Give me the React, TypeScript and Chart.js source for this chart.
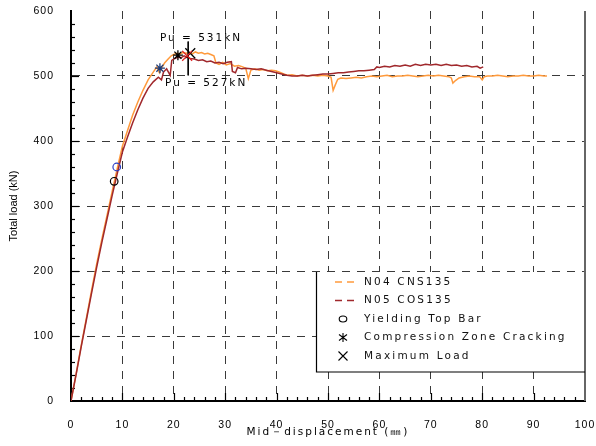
import React, { useEffect, useRef } from "react";
import { Chart, registerables } from "chart.js";

Chart.register(...registerables);

// ---------- DATA ----------
const n04X = [
  0, 1, 2, 3, 4, 5, 6, 7, 8, 9,
  10, 11, 12, 13, 14, 15, 16, 16.7, 17.2, 17.6,
  18.2, 18.9, 19.5, 20, 20.6, 21.2, 21.8, 22.4, 23, 23.6,
  24.2, 24.8, 25.4, 26, 26.6, 27.2, 27.8, 28.2, 28.8, 29.5,
  30.2, 31, 31.8, 32.6, 33.4, 34, 34.5, 35, 35.8, 36.6,
  37.4, 38.2, 39, 39.8, 40.6, 41.4, 42.2, 43, 44, 45,
  46, 47, 48, 49, 50, 50.6, 51, 51.4, 51.9, 52.5,
  53.5, 54.5, 55.5, 56.5, 57.5, 58.5, 59.5, 60.5, 61.5, 62.5,
  63.5, 64.5, 65.5, 66.5, 67.5, 68.5, 69.5, 70.5, 71.5, 72.5,
  73.5, 74, 74.3, 74.8, 75.5, 76.5, 77.5, 78.5, 79.5, 80,
  80.4, 81, 82, 83, 84, 85, 86, 87, 88, 89,
  90, 91, 92, 92.6,
];
const n04Y = [
  0, 42, 86, 128, 170, 211, 249, 285, 322, 358,
  392, 416, 440, 460, 478, 494, 506, 514, 505, 512,
  520, 526, 531, 533, 535, 534, 536, 535, 536, 534,
  537, 535, 536, 534, 535, 533, 531, 520, 518, 521,
  517, 519, 515, 516, 514, 512, 496, 509, 511, 509,
  510, 508, 509, 508, 506, 503, 501, 502, 500, 501,
  500, 501, 500, 501, 500, 498, 478, 486, 495, 497,
  496, 497, 498, 497, 499, 500, 499, 500, 501, 499,
  500, 500, 501, 500, 499, 500, 501, 500, 501, 500,
  499, 497, 489, 493, 497, 499, 500, 499, 499, 494,
  499, 500, 500, 501, 500, 499, 500, 500, 501, 500,
  500, 501, 500, 500,
];

const n05X = [
  0, 1, 2, 3, 4, 5, 6, 7, 8, 9,
  10, 11, 12, 13, 14, 15, 16, 17, 17.6, 18,
  18.6, 19.3, 19.6, 20.2, 20.8, 21.4, 22, 22.6, 23.2, 24,
  24.8, 25.6, 26.4, 27.2, 28, 28.8, 29.6, 30.4, 31.2, 31.4,
  32, 32.4, 33.2, 34, 35, 36, 37, 38, 39, 40,
  41, 42, 43, 44, 45, 46, 47, 48, 49, 50,
  51, 52, 53, 54, 55, 56, 57, 58, 59, 59.5,
  60, 61, 62, 63, 64, 65, 66, 67, 68, 69,
  70, 71, 72, 73, 74, 75, 76, 77, 78, 79,
  79.6, 80.2,
];
const n05Y = [
  0, 41, 84, 125, 166, 206, 244, 280, 316, 350,
  383, 406, 428, 448, 466, 481, 491, 498, 494, 506,
  511, 501, 524, 527, 529, 528, 531, 529, 527, 526,
  524, 525, 522, 523, 520, 521, 519, 521, 522, 507,
  505, 513, 511, 512, 511, 510, 511, 509, 507, 505,
  503, 501, 500, 500, 501, 500, 501, 502, 503, 503,
  504, 505, 505, 506, 507, 508, 508, 509, 510, 514,
  513, 515, 514, 516, 515, 517, 515, 518, 516, 518,
  517, 518, 516, 518, 516, 517, 515, 516, 514, 515,
  512, 514,
];

const yieldX = [8.4, 8.9];
const yieldY = [338, 360];
const crackX = [17.3, 20.8];
const crackY = [512, 532];
const maxLoadX = [23.2, 22.6];
const maxLoadY = [535, 531];

const leaderX = [22.8, 22.8];
const leaderY = [553, 501];

const peakTexts = ["Pu = 531kN", "Pu = 527kN"];
const peakTextX = [25.3, 26.3];
const peakTextY = [558, 489];

const seriesLabels = ["N04 CNS135", "N05 COS135"];
const markerLabels = ["Yielding Top Bar", "Compression Zone Cracking", "Maximum Load"];

const xTickValues = [0, 10, 20, 30, 40, 50, 60, 70, 80, 90, 100];
const yTickValues = [0, 100, 200, 300, 400, 500, 600];
const xMinorStep = 2;
const yMinorStep = 20;

const xTitle = "Mid－displacement (㎜)";
const yTitle = "Total load (kN)";

// ---------- STYLE ----------
const ORANGE = "#FF9A3C";
const DARKRED = "#A0282C";
const TICK_FONT = '"Liberation Sans", Arial, sans-serif';
const TEXT_FONT = '"DejaVu Sans", sans-serif';
const GRID = "#3a3a3a";

const pts = (xs: number[], ys: number[]) => xs.map((x, i) => ({ x, y: ys[i] }));

function patchText(labelSpacing: string, titleSpacing: string) {
  return (scale: any) => {
    if (scale.__patched) return;
    scale.__patched = true;
    const origLabels = scale.drawLabels;
    scale.drawLabels = function (area: any) {
      const c = this.ctx;
      c.save();
      c.letterSpacing = labelSpacing;
      origLabels.call(this, area);
      c.restore();
    };
    const origTitle = scale.drawTitle;
    scale.drawTitle = function () {
      const c = this.ctx;
      c.save();
      c.letterSpacing = titleSpacing;
      origTitle.call(this);
      c.restore();
    };
  };
}

function fixBox(size: { width?: number; height?: number }) {
  return (s: any) => {
    if (size.width !== undefined) s.width = size.width;
    if (size.height !== undefined) s.height = size.height;
    s.paddingLeft = 0;
    s.paddingRight = 0;
    s.paddingTop = 0;
    s.paddingBottom = 0;
  };
}

const decorPlugin = {
  id: "decor",
  beforeDatasetsDraw(chart: any) {
    const { ctx, chartArea: a } = chart;
    const xs = chart.scales.x;
    const ys = chart.scales.y;
    ctx.save();
    // right frame
    ctx.strokeStyle = "#666";
    ctx.lineWidth = 2;
    ctx.beginPath();
    ctx.moveTo(a.right, a.top);
    ctx.lineTo(a.right, a.bottom);
    ctx.stroke();
    // inward ticks
    ctx.strokeStyle = "#000";
    ctx.lineWidth = 1.2;
    for (let v = xMinorStep; v < xs.max; v += xMinorStep) {
      const px = Math.round(xs.getPixelForValue(v)) + 0.5;
      const len = v % 10 === 0 ? 8 : 4;
      ctx.beginPath();
      ctx.moveTo(px, a.bottom);
      ctx.lineTo(px, a.bottom - len);
      ctx.stroke();
    }
    for (let v = yMinorStep; v < ys.max; v += yMinorStep) {
      const py = Math.round(ys.getPixelForValue(v)) + 0.5;
      const len = v % 100 === 0 ? 8 : 4;
      ctx.beginPath();
      ctx.moveTo(a.left, py);
      ctx.lineTo(a.left + len, py);
      ctx.stroke();
    }
    ctx.restore();
  },
  afterDraw(chart: any) {
    const { ctx, chartArea: a } = chart;
    const xs = chart.scales.x;
    const ys = chart.scales.y;
    const ds = chart.data.datasets;
    ctx.save();
    // legend box
    const boxW = 268;
    const boxH = 100;
    const lx = a.right - 1 - boxW;
    const ly = a.top + 261;
    ctx.fillStyle = "#fff";
    ctx.fillRect(lx, ly, boxW, boxH);
    ctx.strokeStyle = "#000";
    ctx.lineWidth = 1.2;
    ctx.beginPath();
    ctx.moveTo(lx + 0.5, ly);
    ctx.lineTo(lx + 0.5, ly + boxH);
    ctx.lineTo(a.right, ly + boxH);
    ctx.stroke();

    ctx.font = "10.5px " + TEXT_FONT;
    ctx.letterSpacing = "2.2px";
    ctx.textBaseline = "middle";
    ctx.textAlign = "left";
    for (let i = 0; i < 5; i++) {
      const d = ds[i];
      const cy = ly + 10 + i * 18.5;
      const sx = lx + 19;
      const mx = lx + 27;
      ctx.lineWidth = 1.4;
      if (i < 2) {
        ctx.strokeStyle = d.borderColor;
        ctx.beginPath();
        ctx.moveTo(sx, cy);
        ctx.lineTo(sx + 7, cy);
        ctx.moveTo(sx + 12, cy);
        ctx.lineTo(sx + 19, cy);
        ctx.stroke();
      } else {
        ctx.strokeStyle = "#000";
        ctx.lineWidth = 1.1;
        ctx.beginPath();
        if (d.pointStyle === "circle") {
          ctx.ellipse(mx, cy, 3.8, 3, 0, 0, Math.PI * 2);
        } else if (d.pointStyle === "star") {
          ctx.moveTo(mx, cy - 4.5);
          ctx.lineTo(mx, cy + 4.5);
          ctx.moveTo(mx - 4, cy - 3);
          ctx.lineTo(mx + 4, cy + 3);
          ctx.moveTo(mx - 4, cy + 3);
          ctx.lineTo(mx + 4, cy - 3);
        } else {
          ctx.moveTo(mx - 4.5, cy - 4.5);
          ctx.lineTo(mx + 4.5, cy + 4.5);
          ctx.moveTo(mx - 4.5, cy + 4.5);
          ctx.lineTo(mx + 4.5, cy - 4.5);
        }
        ctx.stroke();
      }
      ctx.fillStyle = "#111";
      ctx.fillText(d.label, lx + 48, cy);
    }

    // peak annotations
    ctx.font = "10.5px " + TEXT_FONT;
    ctx.letterSpacing = "2px";
    ctx.textAlign = "center";
    ctx.fillStyle = "#000";
    for (let i = 0; i < peakTexts.length; i++) {
      ctx.fillText(peakTexts[i], xs.getPixelForValue(peakTextX[i]), ys.getPixelForValue(peakTextY[i]));
    }
    ctx.restore();
  },
};

export default function App() {
  const canvasRef = useRef<HTMLCanvasElement | null>(null);

  useEffect(() => {
    const canvas = canvasRef.current;
    if (!canvas) return;
    const chart = new Chart(canvas, {
      type: "scatter",
      data: {
        datasets: [
          {
            label: seriesLabels[0],
            data: pts(n04X, n04Y),
            showLine: true,
            borderColor: ORANGE,
            backgroundColor: ORANGE,
            borderWidth: 1.5,
            pointRadius: 0,
            order: 3,
          },
          {
            label: seriesLabels[1],
            data: pts(n05X, n05Y),
            showLine: true,
            borderColor: DARKRED,
            backgroundColor: DARKRED,
            borderWidth: 1.5,
            pointRadius: 0,
            order: 2,
          },
          {
            label: markerLabels[0],
            data: pts(yieldX, yieldY),
            showLine: false,
            pointStyle: "circle",
            pointRadius: 3.8,
            pointBorderWidth: 1.2,
            pointBorderColor: ["#000000", "#2b3fc4"],
            pointBackgroundColor: "rgba(0,0,0,0)",
            order: 0,
          },
          {
            label: markerLabels[1],
            data: pts(crackX, crackY),
            showLine: false,
            pointStyle: "star",
            pointRadius: 5,
            pointBorderWidth: 1.3,
            pointBorderColor: ["#1d3c78", "#000000"],
            pointBackgroundColor: "rgba(0,0,0,0)",
            order: 0,
          },
          {
            label: markerLabels[2],
            data: pts(maxLoadX, maxLoadY),
            showLine: false,
            pointStyle: "crossRot",
            pointRadius: 7,
            pointBorderWidth: 1.3,
            pointBorderColor: ["#000000", "#e02020"],
            pointBackgroundColor: "rgba(0,0,0,0)",
            order: 0,
          },
          {
            label: "",
            data: pts(leaderX, leaderY),
            showLine: true,
            borderColor: "#000",
            borderWidth: 1,
            pointRadius: 0,
            order: 1,
          },
        ],
      } as any,
      options: {
        animation: false,
        responsive: true,
        maintainAspectRatio: false,
        events: [],
        layout: { padding: { top: 11, right: 11, left: 0, bottom: 0 } },
        plugins: {
          legend: { display: false },
          tooltip: { enabled: false },
        },
        scales: {
          x: {
            type: "linear",
            min: 0,
            max: 100,
            afterBuildTicks: (s: any) => {
              s.ticks = xTickValues.map((v) => ({ value: v }));
            },
            afterFit: fixBox({ height: 45 }),
            afterUpdate: patchText("1px", "2px"),
            ticks: {
              font: { family: TICK_FONT, size: 10.5 },
              color: "#000",
              padding: 18,
              maxRotation: 0,
              autoSkip: false,
            },
            grid: {
              color: (c: any) =>
                c.tick && (c.tick.value === 0 || c.tick.value === 100) ? "rgba(0,0,0,0)" : GRID,
              lineWidth: 1,
              drawTicks: false,
            },
            border: { display: true, color: "#000", width: 2, dash: [8, 7] },
            title: {
              display: true,
              text: xTitle,
              font: { family: TEXT_FONT, size: 10.5 },
              color: "#000",
              padding: { top: 0, bottom: 7 },
            },
          },
          y: {
            type: "linear",
            min: 0,
            max: 600,
            afterBuildTicks: (s: any) => {
              s.ticks = yTickValues.map((v) => ({ value: v }));
            },
            afterFit: fixBox({ width: 71 }),
            afterUpdate: patchText("1px", "0px"),
            ticks: {
              font: { family: TICK_FONT, size: 10.5 },
              color: "#000",
              padding: 17,
            },
            grid: {
              color: (c: any) =>
                c.tick && (c.tick.value === 0 || c.tick.value === 600) ? "rgba(0,0,0,0)" : GRID,
              lineWidth: 1,
              drawTicks: false,
            },
            border: { display: true, color: "#000", width: 2, dash: [8, 7] },
            title: {
              display: true,
              text: yTitle,
              font: { family: TICK_FONT, size: 11 },
              color: "#000",
              padding: { top: 7, bottom: 0 },
            },
          },
        },
      } as any,
      plugins: [decorPlugin],
    });
    return () => chart.destroy();
  }, []);

  return (
    <div
      style={{
        position: "absolute",
        left: 0,
        top: 0,
        width: 596,
        height: 446,
        background: "#fff",
      }}
    >
      <canvas ref={canvasRef} />
    </div>
  );
}
